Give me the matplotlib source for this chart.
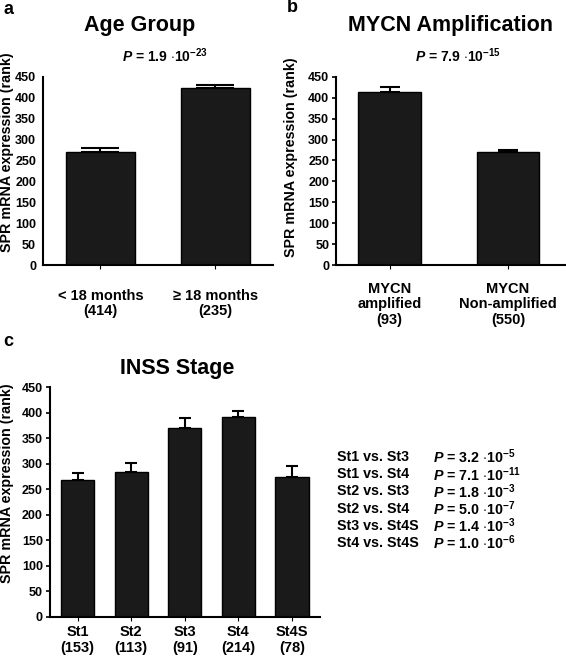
import matplotlib
matplotlib.use('Agg')
import matplotlib.pyplot as plt
import numpy as np

plt.rcParams['font.family'] = ['Liberation Sans', 'DejaVu Sans']
plt.rcParams['font.weight'] = 'bold'
plt.rcParams['mathtext.fontset'] = 'custom'
plt.rcParams['mathtext.rm'] = 'Liberation Sans:bold'
plt.rcParams['mathtext.it'] = 'Liberation Sans:bold:italic'
plt.rcParams['mathtext.bf'] = 'Liberation Sans:bold'
plt.rcParams['mathtext.default'] = 'rm'

# --- data ---
age_labels = ['< 18 months\n(414)', '\u2265 18 months\n(235)']
age_means = [270, 423]
age_err = [10, 8]
age_p = r'$\mathit{P}$ = 1.9 $\cdot$10$^{-23}$'

mycn_labels = ['MYCN\namplified\n(93)', 'MYCN\nNon-amplified\n(550)']
mycn_means = [414, 270]
mycn_err = [12, 6]
mycn_p = r'$\mathit{P}$ = 7.9 $\cdot$10$^{-15}$'

stage_labels = ['St1\n(153)', 'St2\n(113)', 'St3\n(91)', 'St4\n(214)', 'St4S\n(78)']
stage_means = [268, 284, 370, 391, 274]
stage_err = [14, 18, 19, 12, 21]

comparisons = ['St1 vs. St3', 'St1 vs. St4', 'St2 vs. St3', 'St2 vs. St4',
               'St3 vs. St4S', 'St4 vs. St4S']
comp_p = ['3.2', '7.1', '1.8', '5.0', '1.4', '1.0']
comp_exp = ['-5', '-11', '-3', '-7', '-3', '-6']

yticks = np.arange(0, 451, 50)
bar_color = '#1a1a1a'


def draw_panel(ax, labels, means, errs, width, capsize, xlim, pad, ytick_len, ylab_xy):
    x = np.arange(len(means))
    ax.bar(x, means, width=width, color=bar_color, edgecolor='black', linewidth=1, zorder=2)
    ax.errorbar(x, means, yerr=[np.zeros(len(errs)), errs], fmt='none',
                ecolor='black', elinewidth=1.5, capsize=capsize, capthick=1.5, zorder=1)
    ax.set_ylim(0, 450)
    ax.set_xlim(*xlim)
    ax.set_yticks(yticks)
    ax.set_xticks(x)
    ax.set_xticklabels(labels, fontsize=10.5, fontweight='bold', linespacing=1.15)
    ax.tick_params(axis='y', labelsize=9, length=ytick_len, width=1.2, pad=4 - ytick_len + 1)
    ax.tick_params(axis='x', length=3, width=0.8, pad=pad)
    for s in ['top', 'right']:
        ax.spines[s].set_visible(False)
    for s in ['left', 'bottom']:
        ax.spines[s].set_linewidth(1.5)
    ax.set_ylabel('SPR mRNA expression (rank)', fontsize=10.3, fontweight='bold')
    ax.yaxis.set_label_coords(*ylab_xy)


fig = plt.figure(figsize=(5.66, 6.56), dpi=100)

ax_a = fig.add_axes([0.076, 0.596, 0.406, 0.287])
draw_panel(ax_a, age_labels, age_means, age_err, 0.6, 14, (-0.5, 1.5), 14, 0, (-0.126, 0.60))
ax_b = fig.add_axes([0.594, 0.596, 0.404, 0.287])
draw_panel(ax_b, mycn_labels, mycn_means, mycn_err, 0.53, 7.5, (-0.45, 1.48), 9, 3, (-0.166, 0.575))
ax_c = fig.add_axes([0.088, 0.0595, 0.477, 0.3505])
draw_panel(ax_c, stage_labels, stage_means, stage_err, 0.62, 4, (-0.52, 4.52), 3, 3, (-0.133, 0.58))

# titles
fig.text(140 / 566, 1 - 25 / 656, 'Age Group', fontsize=15.5, fontweight='bold', ha='center', va='center')
fig.text(451 / 566, 1 - 25 / 656, 'MYCN Amplification', fontsize=15.5, fontweight='bold', ha='center', va='center')
fig.text(177 / 566, 1 - 368 / 656, 'INSS Stage', fontsize=15.5, fontweight='bold', ha='center', va='center')

# p-values
fig.text(165 / 566, 1 - 56 / 656, age_p, fontsize=10, ha='center', va='center')
fig.text(458 / 566, 1 - 56 / 656, mycn_p, fontsize=10, ha='center', va='center')

# panel letters
fig.text(3 / 566, 1 - 9 / 656, 'a', fontsize=13, fontweight='bold', ha='left', va='center')
fig.text(287 / 566, 1 - 8 / 656, 'b', fontsize=13, fontweight='bold', ha='left', va='center')
fig.text(3 / 566, 1 - 341 / 656, 'c', fontsize=13, fontweight='bold', ha='left', va='center')

# stage comparisons
for i, (c, p, e) in enumerate(zip(comparisons, comp_p, comp_exp)):
    y = 1 - (457 + i * 17.2) / 656
    fig.text(337 / 566, y, c, fontsize=10.3, fontweight='bold', ha='left', va='center')
    fig.text(433 / 566, y, r'$\mathit{P}$ = ' + p + r' $\cdot$10$^{' + e + '}$',
             fontsize=10.3, ha='left', va='center')

fig.savefig('out.png', dpi=100)
